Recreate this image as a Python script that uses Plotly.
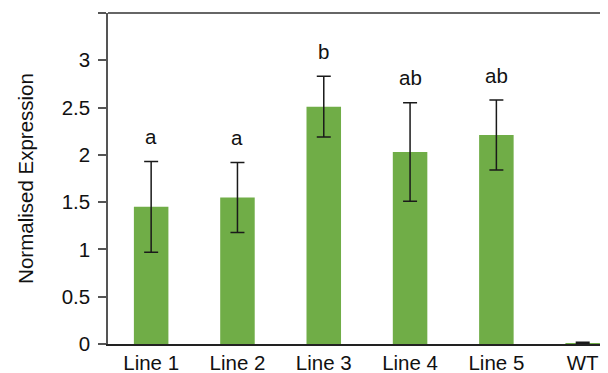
import plotly.graph_objects as go

categories = ["Line 1", "Line 2", "Line 3", "Line 4", "Line 5", "WT"]
values = [1.45, 1.55, 2.51, 2.03, 2.21, 0.01]
errors = [0.48, 0.37, 0.32, 0.52, 0.37, 0.008]
letters = ["a", "a", "b", "ab", "ab", ""]
y_ticks = [0, 0.5, 1, 1.5, 2, 2.5, 3, 3.5]
y_tick_text = ["0", "0.5", "1", "1.5", "2", "2.5", "3", ""]

FONT = "Liberation Sans, Arial, sans-serif"
FS = 20.5

fig = go.Figure()
fig.add_trace(go.Bar(
    x=categories, y=values,
    marker=dict(color="#70AD47", line=dict(width=0)),
    width=0.4,
    error_y=dict(type="data", array=errors, visible=True,
                 color="#1a1a1a", thickness=1.5, width=7),
))

for c, v, e, t in zip(categories, values, errors, letters):
    if t:
        fig.add_annotation(x=c, y=v + e, text=t, showarrow=False,
                           yanchor="middle", yshift=25,
                           font=dict(family=FONT, size=FS, color="#111"))

# top border line
fig.add_shape(type="line", xref="paper", yref="paper", x0=0, x1=1, y0=1, y1=1,
              line=dict(color="#666", width=2))

fig.update_layout(
    width=608, height=373,
    margin=dict(l=100, r=0, t=5, b=37),
    plot_bgcolor="white", paper_bgcolor="white",
    showlegend=False,
    font=dict(family=FONT, size=FS, color="#111"),
    xaxis=dict(range=[-0.5, 5.386], showline=True, linecolor="#222", linewidth=1.5,
               ticks="", showgrid=False, zeroline=False,
               tickfont=dict(size=FS), fixedrange=True),
    yaxis=dict(range=[0, 3.5], tickvals=y_ticks, ticktext=y_tick_text,
               showline=True, linecolor="#555", linewidth=1.5,
               ticks="outside", ticklen=8, tickwidth=1.5, tickcolor="#555",
               showgrid=False, zeroline=False, ticklabelstandoff=4,
               tickfont=dict(size=FS),
               title=dict(text="Normalised Expression", font=dict(size=FS), standoff=22),
               automargin=False),
)

fig.write_html("out.html")
